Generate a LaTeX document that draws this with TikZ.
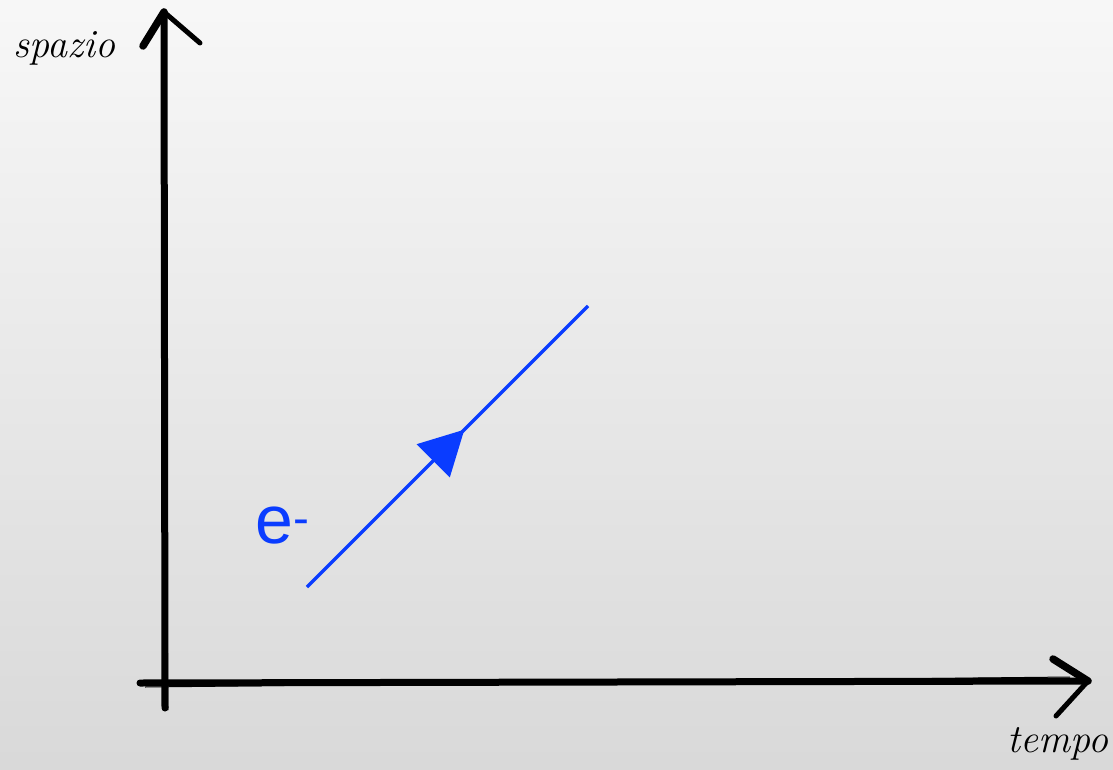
\documentclass[tikz,border=0pt]{standalone}
\usepackage{fontspec}
\newfontfamily\labfont{Liberation Sans}
\usetikzlibrary{arrows.meta,decorations.markings}
\definecolor{eblue}{HTML}{0A3CFF}
\tikzset{
  axisline/.style={black,line width=7pt,line cap=round},
  axisfine/.style={black,line width=1pt},
  chevron/.style={black,line width=7.5pt,line cap=round,line join=miter},
  chevthin/.style={black,line width=5pt,line cap=round},
  hand/.style={font=\itshape\fontsize{40}{40}\selectfont,inner sep=0pt},
  eline/.style={eblue,line width=3.5pt,
    postaction={decorate,decoration={markings,
      mark=at position 0.56 with {\arrow{Triangle[length=44pt,width=46pt]}}}}},
  elabel/.style={eblue,font=\labfont\fontsize{68}{68}\selectfont,inner sep=0pt}
}
\begin{document}
\begin{tikzpicture}[x=1pt,y=-1pt]
\shade[top color=white!97!black,bottom color=white!85!black] (0,0) rectangle (1113,770);
\useasboundingbox (0,0) rectangle (1113,770);
% axes
\coordinate (o) at (165,683);
\coordinate (ytop) at (164,12);
\coordinate (ybot) at (165,708);
\coordinate (xleft) at (140,683);
\coordinate (xtip) at (1088,681);
\draw[axisline] (ybot) -- (ytop);
\draw[axisfine] (168,710) -- (162,30);
\draw[axisline] (xleft) -- (xtip);
\draw[axisfine] (145,687) -- (1070,677);
\coordinate (yl) at (143,46);
\coordinate (yr) at (200,43);
\coordinate (xu) at (1053,659);
\coordinate (xd) at (1056,716);
\draw[chevron] (yl) -- (ytop);
\draw[chevthin] (ytop) -- (yr);
\draw[chevron] (xu) -- (xtip);
\draw[chevthin] (xtip) -- (xd);
% labels
\node[hand] (spazio) at (64,48) {spazio};
\node[hand] (tempo) at (1058,744) {tempo};
% electron line
\coordinate (ea) at (307,587);
\coordinate (eb) at (588,306);
\draw[eline] (ea) -- (eb);
\node[elabel] (e) at (283,526) {e\textsuperscript{-}};
\end{tikzpicture}
\end{document}
